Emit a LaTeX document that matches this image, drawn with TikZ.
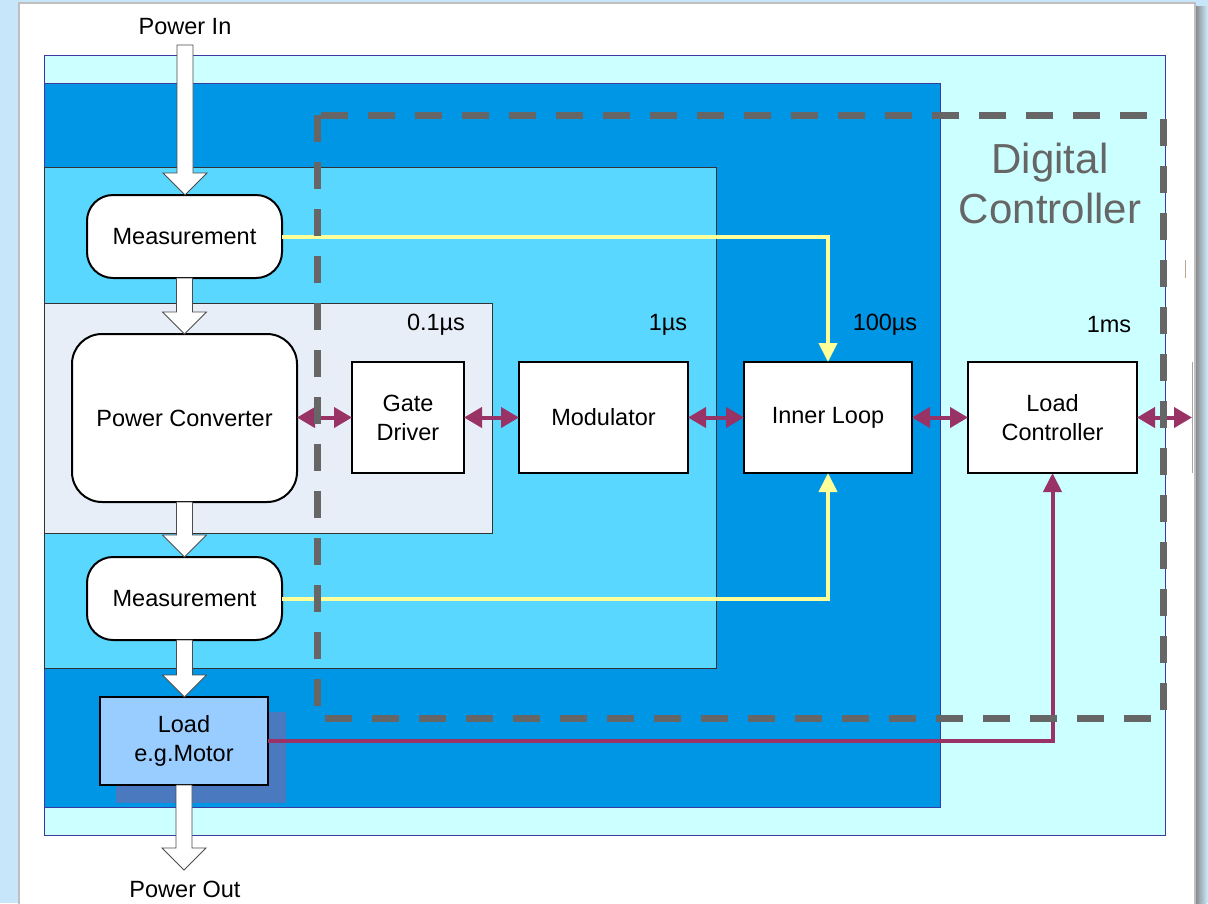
\documentclass[tikz,border=0pt]{standalone}
\usepackage{fontspec}
\setmainfont{Liberation Sans}
\usetikzlibrary{arrows.meta,calc}

\definecolor{pagebg}{HTML}{C8E6FA}
\definecolor{zonecyan}{HTML}{CCFFFF}
\definecolor{zonedeep}{HTML}{0096E6}
\definecolor{zonemid}{HTML}{5AD7FF}
\definecolor{zonepale}{HTML}{E8EEF8}
\definecolor{zoneedge}{HTML}{3A3AA0}
\definecolor{dashgrey}{HTML}{666666}
\definecolor{sigyellow}{HTML}{FFFF99}
\definecolor{linkpurple}{HTML}{993366}
\definecolor{loadfill}{HTML}{99CCFF}
\definecolor{loadshade}{HTML}{4A79C0}

\tikzset{
  txt/.style={font=\fontsize{23.5}{29}\selectfont},
  roundbox/.style={draw=black, line width=2pt, fill=white, rounded corners=26pt,
    inner sep=0pt, outer sep=0pt, align=center, txt},
  plainbox/.style={draw=black, line width=2pt, fill=white,
    inner sep=0pt, outer sep=0pt, align=center, txt},
  zone/.style={draw=zoneedge, line width=1pt},
  blockarrow/.style={draw=black!70, line width=0.8pt, fill=white, line join=miter},
  sigline/.style={draw=sigyellow, line width=4pt, -{Triangle[length=19pt,width=18pt]}},
  biline/.style={draw=linkpurple, line width=4pt,
    {Triangle[length=18pt,width=20pt]}-{Triangle[length=18pt,width=20pt]}},
  uniline/.style={draw=linkpurple, line width=4pt, -{Triangle[length=19pt,width=18pt]}},
  dcbox/.style={draw=dashgrey, line width=7pt, dash pattern=on 27pt off 20pt},
  timelabel/.style={txt, anchor=center},
}

% hollow block arrow between two points on a vertical line
\newcommand\blockarrow[2]{%
  \draw[blockarrow] let \p1=#1, \p2=#2 in
    (\x1-8pt,\y1) -- (\x1+8pt,\y1) -- (\x1+8pt,\y2+22pt) -- (\x1+22pt,\y2+22pt)
    -- (\x1,\y2) -- (\x1-22pt,\y2+22pt) -- (\x1-8pt,\y2+22pt) -- cycle;}

\begin{document}
\begin{tikzpicture}[x=1pt,y=-1pt]
  \useasboundingbox (0,0) rectangle (1208,903);
  % page background and panel
  \fill[pagebg] (0,0) rectangle (1208,903);
  \shade[left color=black!45, right color=pagebg] (1196,6) rectangle (1207,903);
  \fill[white] (19,3) rectangle (1195,910);
  \draw[black!25, line width=2pt] (19,910) -- (19,3) -- (1195,3) -- (1195,910);

  % nested timing zones
  \draw[zone, fill=zonecyan] (44,55) rectangle (1165,835);
  \draw[zone, fill=zonedeep] (44,83) rectangle (940,807);
  \draw[black!80, line width=1pt, fill=zonemid] (44,167) rectangle (716,668);
  \draw[black!80, line width=1pt, fill=zonepale] (44,303) rectangle (492,533);

  % small marks at the right edge
  \draw[black!35, line width=1pt] (1192,362) -- (1192,473);
  \draw[brown!60!black!50, line width=1pt] (1185,260) -- (1185,278);

  % load shadow
  \fill[loadshade] (116,712) rectangle (286,803);

  % blocks
  \node[roundbox, minimum width=195pt, minimum height=83pt] (m1) at (184.5,236.5) {Measurement};
  \node[roundbox, minimum width=225pt, minimum height=168pt, rounded corners=30pt] (pc) at (184.5,418) {Power Converter};
  \node[roundbox, minimum width=195pt, minimum height=83pt] (m2) at (184.5,598.5) {Measurement};
  \node[plainbox, fill=loadfill, minimum width=168pt, minimum height=88pt] (load) at (184,741) {Load\\e.g.Motor};
  \node[plainbox, minimum width=112pt, minimum height=111pt] (gd) at (408,417.5) {Gate\\Driver};
  \node[plainbox, minimum width=169pt, minimum height=111pt] (mod) at (603.5,417.5) {Modulator};
  \node[plainbox, minimum width=168pt, minimum height=111pt] (il) at (828,417.5) {Inner Loop};
  \node[plainbox, minimum width=169pt, minimum height=111pt] (lc) at (1052.5,417.5) {Load\\Controller};

  % texts
  \node[txt] (pin) at (185,27) {Power In};
  \node[txt] (pout) at (185,889) {Power Out};
  \node[timelabel] (t1) at (436,325) {0.1µs};
  \node[timelabel] (t2) at (668,325) {1µs};
  \node[timelabel] (t3) at (885,325) {100µs};
  \node[timelabel] (t4) at (1109,325) {1ms};
  \node[font=\fontsize{42}{50}\selectfont, text=dashgrey, align=center] (dc) at (1050,183) {Digital\\Controller};

  % power path
  \coordinate (pintop) at (185,45);
  \coordinate (pouttip) at (185,870);
  \blockarrow{(pintop)}{(m1.north)}
  \blockarrow{(m1.south)}{(pc.north)}
  \blockarrow{(pc.south)}{(m2.north)}
  \blockarrow{(m2.south)}{(load.north)}
  \blockarrow{(load.south)}{(pouttip)}

  % measurement feedback
  \draw[sigline] (m1.east) -| (il.north);
  \draw[sigline] (m2.east) -| (il.south);

  % control chain
  \coordinate (ext) at (1192,417.5);
  \draw[biline] (pc.east |- gd.west) -- (gd.west);
  \draw[biline] (gd.east) -- (mod.west);
  \draw[biline] (mod.east) -- (il.west);
  \draw[biline] (il.east) -- (lc.west);
  \draw[biline] (lc.east) -- (ext);
  \draw[uniline] (load.east) -| (lc.south);

  % digital controller boundary
  \draw[dcbox] (317,115) rectangle (1163,718);
\end{tikzpicture}
\end{document}
